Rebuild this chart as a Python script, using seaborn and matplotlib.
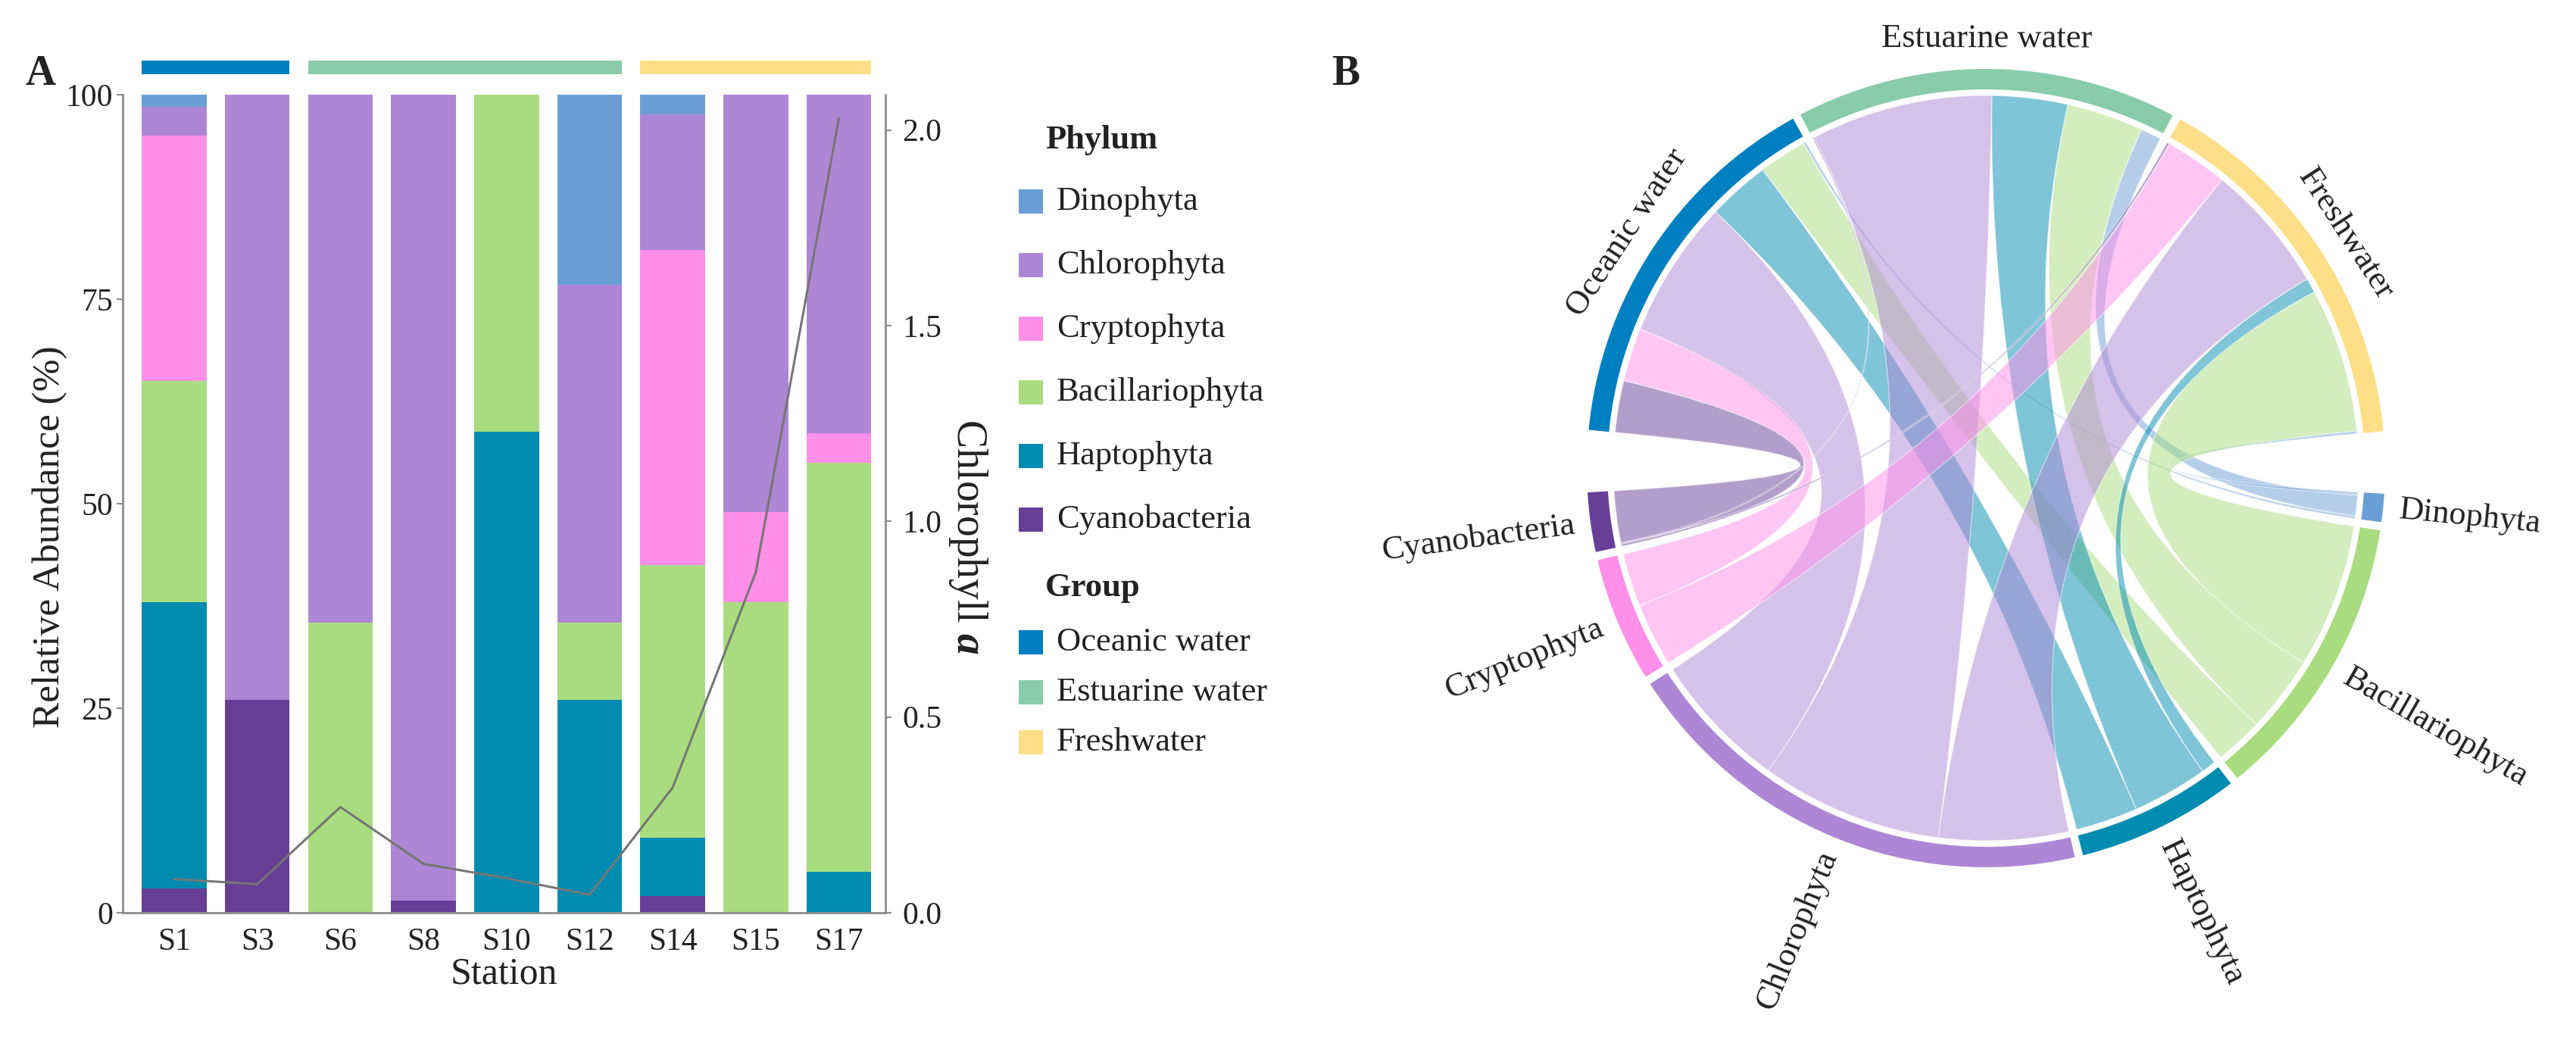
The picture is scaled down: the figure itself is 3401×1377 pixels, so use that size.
import numpy as np
import pandas as pd
import matplotlib.pyplot as plt
import seaborn as sns
from matplotlib.patches import Rectangle, Wedge, PathPatch
from matplotlib.path import Path
import matplotlib.transforms as mtransforms

# ---- data -------------------------------------------------------------
stations = ['S1', 'S3', 'S6', 'S8', 'S10', 'S12', 'S14', 'S15', 'S17']
station_group = ['Oceanic water', 'Oceanic water',
                 'Estuarine water', 'Estuarine water', 'Estuarine water', 'Estuarine water',
                 'Freshwater', 'Freshwater', 'Freshwater']

# relative abundance (%) per station
dinophyta = [1.5, 0, 0, 0, 0, 23.2, 2.4, 0, 0]
chlorophyta = [3.5, 74, 64.5, 98.5, 0, 41.3, 16.6, 51, 41.4]
cryptophyta = [30, 0, 0, 0, 0, 0, 38.5, 11, 3.6]
bacillariophyta = [27, 0, 35.5, 0, 41.2, 9.5, 33.3, 38, 50]
haptophyta = [35, 0, 0, 0, 58.8, 26, 7.2, 0, 5]
cyanobacteria = [3, 26, 0, 1.5, 0, 0, 2, 0, 0]

chlorophyll_a = [0.086, 0.073, 0.27, 0.125, 0.088, 0.046, 0.32, 0.87, 2.03]

phyla = ['Dinophyta', 'Chlorophyta', 'Cryptophyta', 'Bacillariophyta', 'Haptophyta', 'Cyanobacteria']
phylum_colors = ['#6a9fd6', '#ad87d6', '#ff8fe8', '#a8dc7e', '#008bb0', '#673f96']
groups = ['Oceanic water', 'Estuarine water', 'Freshwater']
group_colors = ['#0080c0', '#88ccaa', '#fedf88']

df = pd.DataFrame({'Station': stations, 'Group': station_group,
                   'Dinophyta': dinophyta, 'Chlorophyta': chlorophyta,
                   'Cryptophyta': cryptophyta, 'Bacillariophyta': bacillariophyta,
                   'Haptophyta': haptophyta, 'Cyanobacteria': cyanobacteria,
                   'Chla': chlorophyll_a})
pal = dict(zip(phyla + groups, phylum_colors + group_colors))

# ---- style ------------------------------------------------------------
sns.set_theme(style='white')
plt.rcParams['font.family'] = ['Liberation Serif', 'DejaVu Serif']
plt.rcParams['mathtext.fontset'] = 'custom'
plt.rcParams['mathtext.rm'] = 'Liberation Serif'
plt.rcParams['mathtext.it'] = 'Liberation Serif:italic'
plt.rcParams['mathtext.bf'] = 'Liberation Serif:bold'
plt.rcParams['mathtext.bfit'] = 'Liberation Serif:italic:bold'
TXT = '#222222'
SPINE = '#8c8c8c'

W, H = 3401, 1377
fig = plt.figure(figsize=(W / 100, H / 100), dpi=100)


def fx(px):
    return px / W


def fy(py):
    return 1 - py / H


# ---- panel A: stacked bars + chlorophyll line -------------------------
ax = fig.add_axes([fx(162), fy(1205), fx(1169) - fx(162), fy(125) - fy(1205)])
stack_order = ['Cyanobacteria', 'Haptophyta', 'Bacillariophyta', 'Cryptophyta', 'Chlorophyta', 'Dinophyta']
cum = df[stack_order].cumsum(axis=1)
for name in reversed(stack_order):
    sns.barplot(x=df['Station'], y=cum[name], color=pal[name], width=0.78,
                linewidth=0, saturation=1, ax=ax)
ax.set_xlim(-0.62, 8.56)
ax.set_ylim(0, 100)
ax.set_yticks([0, 25, 50, 75, 100])
ax.set_xlabel('Station', fontsize=36, color=TXT, labelpad=0)
ax.set_ylabel('Relative Abundance (%)', fontsize=37, color=TXT)
ax.yaxis.set_label_coords(-0.072, 0.46)
ax.tick_params(axis='both', labelsize=30, colors=TXT, length=6, width=1.5, color=SPINE)
ax.tick_params(axis='x', pad=8)
for s in ['top', 'right']:
    ax.spines[s].set_visible(False)
for s in ['left', 'bottom']:
    ax.spines[s].set_color(SPINE)
    ax.spines[s].set_linewidth(2)

# group strips above the bars
strip_tr = mtransforms.blended_transform_factory(ax.transData, ax.transAxes)
pos = np.arange(len(stations))
for g, c in zip(groups, group_colors):
    xs = pos[df['Group'] == g]
    ax.add_patch(Rectangle((xs.min() - 0.39, 1.025), xs.max() - xs.min() + 0.78, 0.017,
                           transform=strip_tr, color=c, clip_on=False, lw=0))

ax2 = ax.twinx()
sns.lineplot(x=pos, y=df['Chla'], color='#767676', linewidth=2.2, ax=ax2)
ax2.set_ylim(0, 2.09)
ax2.set_yticks([0, 0.5, 1.0, 1.5, 2.0])
ax2.set_yticklabels(['0.0', '0.5', '1.0', '1.5', '2.0'])
ax2.tick_params(axis='y', labelsize=30, colors=TXT, length=6, width=1.5, color=SPINE, pad=10)
ax2.set_ylabel(r'Chlorophyll $\mathbfit{a}$', fontsize=40, color=TXT, rotation=270,
               va='center', ha='center')
ax2.yaxis.set_label_coords(1.108, 0.46)
for s in ['top', 'left', 'bottom']:
    ax2.spines[s].set_visible(False)
ax2.spines['right'].set_color(SPINE)
ax2.spines['right'].set_linewidth(2)

fig.text(fx(33), fy(98), 'A', fontsize=40, fontweight='bold', color=TXT, va='center', ha='left')

# legend drawn at the right of panel A
def legend_block(title, names, colors, y_title, y0, step):
    fig.text(fx(1380), fy(y_title), title, fontsize=32, fontweight='bold', color=TXT,
             va='center', ha='left')
    for i, (n, c) in enumerate(zip(names, colors)):
        yc = y0 + i * step
        fig.add_artist(Rectangle((fx(1345), fy(yc + 16)), 32 / W, 32 / H, color=c,
                                 transform=fig.transFigure, lw=0))
        fig.text(fx(1395), fy(yc), n, fontsize=32, color=TXT, va='center', ha='left')


legend_block('Phylum', phyla, phylum_colors, 185, 266, 84)
legend_block('Group', groups, group_colors, 776, 848, 66)

# ---- panel B: chord diagram --------------------------------------------
axb = fig.add_axes([fx(1768), 0, 1 - fx(1768), 1])
cx, cy, R = 2622, 618, 527
axb.set_xlim((1768 - cx) / R, (W - cx) / R)
axb.set_ylim((cy - H) / R, cy / R)
axb.axis('off')

mean_tab = df.groupby('Group')[phyla].mean().loc[groups]
phylum_circle = ['Dinophyta', 'Bacillariophyta', 'Haptophyta', 'Chlorophyta', 'Cryptophyta', 'Cyanobacteria']
circle_order = groups + phylum_circle
sizes = list(mean_tab.sum(axis=1).values) + list(mean_tab.sum(axis=0)[phylum_circle].values)
gaps = [1.2, 1.2, 9, 1.2, 1.2, 1.2, 1.2, 1.2, 9]
deg = (360 - sum(gaps)) / sum(sizes)

sector = {}
a = 174.5
for name, size, gap in zip(circle_order, sizes, gaps):
    sector[name] = (a, a - size * deg)
    a -= size * deg + gap

gpos, ppos = {}, {}
for g in groups:
    a = sector[g][0]
    for p in reversed(phylum_circle):
        w = mean_tab.loc[g, p] * deg
        gpos[(g, p)] = (a, a - w)
        a -= w
for p in phylum_circle:
    a = sector[p][0]
    for g in reversed(groups):
        w = mean_tab.loc[g, p] * deg
        ppos[(g, p)] = (a, a - w)
        a -= w


def arc_pts(t0, t1, r, n=60):
    t = np.radians(np.linspace(t0, t1, n))
    return np.column_stack([r * np.cos(t), r * np.sin(t)])


def ribbon(a0, a1, b0, b1, r):
    arc1 = arc_pts(a0, a1, r)
    arc2 = arc_pts(b0, b1, r)
    verts = list(arc1)
    codes = [Path.MOVETO] + [Path.LINETO] * (len(arc1) - 1)
    verts += [(0, 0), arc2[0]]
    codes += [Path.CURVE3, Path.CURVE3]
    verts += list(arc2[1:])
    codes += [Path.LINETO] * (len(arc2) - 1)
    verts += [(0, 0), arc1[0], arc1[0]]
    codes += [Path.CURVE3, Path.CURVE3, Path.CLOSEPOLY]
    return Path(verts, codes)


r_link = 1 - 35 / R
for g in groups:
    for p in phylum_circle:
        if mean_tab.loc[g, p] <= 0:
            continue
        a0, a1 = gpos[(g, p)]
        b0, b1 = ppos[(g, p)]
        axb.add_patch(PathPatch(ribbon(a0, a1, b0, b1, r_link),
                                facecolor=pal[p], alpha=0.5, edgecolor='white', lw=1))

for name in circle_order:
    t0, t1 = sector[name]
    axb.add_patch(Wedge((0, 0), 1.0, t1, t0, width=27 / R, color=pal[name], lw=0))
    mid = (t0 + t1) / 2
    rad = np.radians(mid)
    if name in groups:
        r = 1.075
        axb.text(r * np.cos(rad), r * np.sin(rad), name, fontsize=32, color=TXT,
                 rotation=mid - 90, rotation_mode='anchor', ha='center', va='center')
    else:
        r = 1.04
        m = (mid + 180) % 360 - 180
        if -90 < m < 90:
            rot, ha = m, 'left'
        else:
            rot, ha = m + 180, 'right'
        axb.text(r * np.cos(rad), r * np.sin(rad), name, fontsize=32, color=TXT,
                 rotation=rot, rotation_mode='anchor', ha=ha, va='center')

fig.text(fx(1758), fy(98), 'B', fontsize=40, fontweight='bold', color=TXT, va='center', ha='left')

fig.savefig('out.png', dpi=100, facecolor='white')
